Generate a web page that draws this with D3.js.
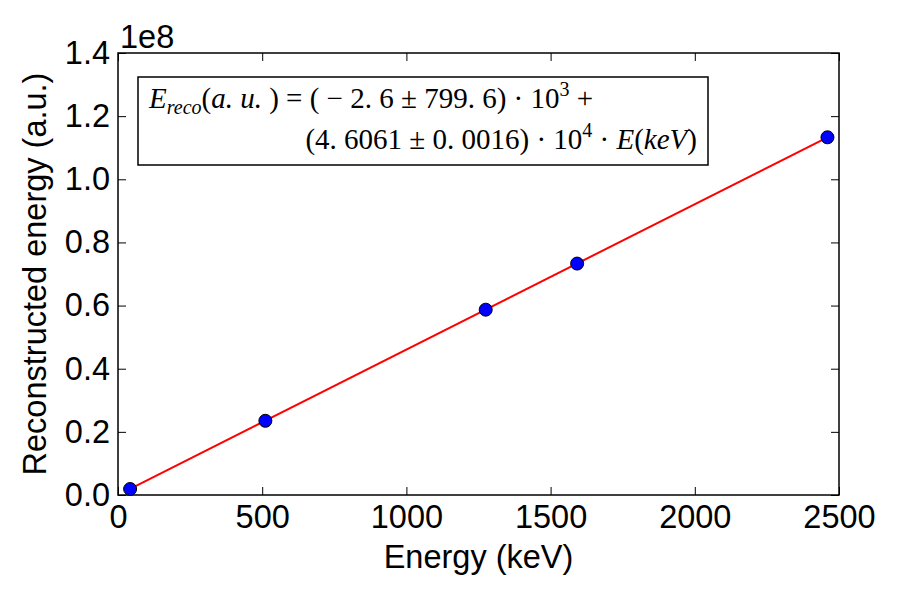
<!DOCTYPE html>
<html>
<head>
<meta charset="utf-8">
<script src="https://cdn.jsdelivr.net/npm/d3@7"></script>
<style>
  body { margin: 0; background: #fff; }
  text { font-family: "Liberation Sans", Arial, sans-serif; fill: #000; }
  .math { font-family: "Liberation Serif", "DejaVu Serif", serif; }
</style>
</head>
<body>
<div class="chart"></div>
<script>
// measured points (keV, a.u.)
var energies = [42, 511, 1275, 1592, 2460];
var recoEnergies = [1.9e6, 2.35e7, 5.87e7, 7.33e7, 1.133e8];

// fit result shown in the box
var fitIntercept = -2.6e3;
var fitSlope = 4.6061e4;

var xTicks = [0, 500, 1000, 1500, 2000, 2500];
var yTicks = [0, 0.2e8, 0.4e8, 0.6e8, 0.8e8, 1.0e8, 1.2e8, 1.4e8];

// set the dimensions and margins of the graph
var margin = {top: 53, right: 61, bottom: 105, left: 118},
    width = 900 - margin.left - margin.right,
    height = 600 - margin.top - margin.bottom;

var x = d3.scaleLinear().domain([0, 2500]).range([0, width]);
var y = d3.scaleLinear().domain([0, 1.4e8]).range([height, 0]);

var fontSize = "32.5px";

var svg = d3.select(".chart").append("svg")
    .attr("width", 900)
    .attr("height", 600)
    .append("g")
    .attr("transform", "translate(" + margin.left + "," + margin.top + ")");

// axes, ticks pointing inward (classic matplotlib look)
var tickLen = 8;
var xAxis = d3.axisBottom(x).tickValues(xTicks).tickSize(-tickLen).tickPadding(10)
    .tickFormat(d3.format("d"));
var yAxis = d3.axisLeft(y).tickValues(yTicks).tickSize(-tickLen).tickPadding(8)
    .tickFormat(function(d){ return (d / 1e8).toFixed(1); });

var gx = svg.append("g")
    .attr("transform", "translate(0," + height + ")")
    .call(xAxis);
var gy = svg.append("g").call(yAxis);

// top and right ticks without labels
var gxTop = svg.append("g")
    .call(d3.axisTop(x).tickValues(xTicks).tickSize(-tickLen).tickFormat(""));
var gyRight = svg.append("g")
    .attr("transform", "translate(" + width + ",0)")
    .call(d3.axisRight(y).tickValues(yTicks).tickSize(-tickLen).tickFormat(""));

[gx, gy, gxTop, gyRight].forEach(function(g){
    g.select(".domain").remove();
    g.selectAll(".tick line").attr("stroke", "#000").attr("stroke-width", 1);
    g.selectAll(".tick text").style("font-size", fontSize)
        .style("font-family", "Liberation Sans, Arial, sans-serif");
});

// frame
svg.append("rect")
    .attr("width", width)
    .attr("height", height)
    .attr("fill", "none")
    .attr("stroke", "#000")
    .attr("stroke-width", 1.5);

// offset text
svg.append("text")
    .text("1e8")
    .attr("x", 2)
    .attr("y", -5)
    .style("font-size", fontSize);

// axis labels
svg.append("text")
    .text("Energy (keV)")
    .attr("text-anchor", "middle")
    .attr("transform", "translate(" + width / 2 + "," + (height + 73) + ")")
    .style("font-size", fontSize);

svg.append("text")
    .text("Reconstructed energy (a.u.)")
    .attr("text-anchor", "middle")
    .attr("transform", "translate(-72," + height / 2 + ") rotate(-90)")
    .style("font-size", fontSize);

// fit line
var fitEnds = [d3.min(energies), d3.max(energies)];
var valueline = d3.line()
    .x(function(d){ return x(d); })
    .y(function(d){ return y(fitIntercept + fitSlope * d); });

svg.append("path")
    .attr("d", valueline(fitEnds))
    .attr("fill", "none")
    .attr("stroke", "red")
    .attr("stroke-width", 2);

// data points
svg.selectAll("circle.pt")
    .data(energies)
    .enter().append("circle")
    .attr("class", "pt")
    .attr("cx", function(d){ return x(d); })
    .attr("cy", function(d, i){ return y(recoEnergies[i]); })
    .attr("r", 6.5)
    .attr("fill", "blue")
    .attr("stroke", "#000")
    .attr("stroke-width", 1);

// legend box with fit formula
var box = svg.append("g").attr("transform", "translate(20,24)");
box.append("rect")
    .attr("width", 570)
    .attr("height", 88)
    .attr("fill", "#fff")
    .attr("stroke", "#000")
    .attr("stroke-width", 1.5);

var line1 = box.append("text").attr("class", "math")
    .attr("x", 11).attr("y", 31).style("font-size", "29px");
line1.append("tspan").style("font-style", "italic").text("E");
line1.append("tspan").style("font-style", "italic").style("font-size", "20px")
    .attr("dy", 6).text("reco");
line1.append("tspan").attr("dy", -6).text("(");
line1.append("tspan").style("font-style", "italic").text("a. u. ");
line1.append("tspan").text(") = ( \u2212 2. 6 \u00b1 799. 6) \u00b7 10");
line1.append("tspan").style("font-size", "20px").attr("dy", -12).text("3");
line1.append("tspan").attr("dy", 12).text(" +");

var line2 = box.append("text").attr("class", "math")
    .attr("x", 559).attr("y", 72).attr("text-anchor", "end").style("font-size", "29px");
line2.append("tspan").text("(4. 6061 \u00b1 0. 0016) \u00b7 10");
line2.append("tspan").style("font-size", "20px").attr("dy", -12).text("4");
line2.append("tspan").attr("dy", 12).text(" \u00b7 ");
line2.append("tspan").style("font-style", "italic").text("E");
line2.append("tspan").text("(");
line2.append("tspan").style("font-style", "italic").text("keV");
line2.append("tspan").text(")");
</script>
</body>
</html>
